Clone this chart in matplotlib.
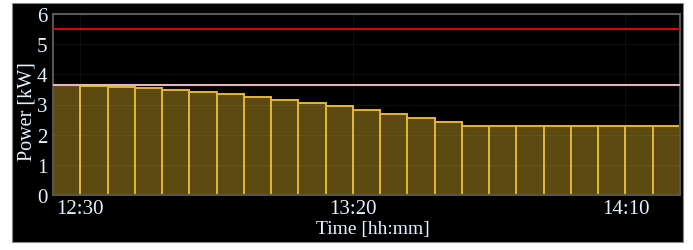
import matplotlib
matplotlib.use("Agg")
import matplotlib.pyplot as plt
from matplotlib.patches import Rectangle

# Data
times = ["12:25", "12:30", "12:35", "12:40", "12:45", "12:50", "12:55", "13:00",
         "13:05", "13:10", "13:15", "13:20", "13:25", "13:30", "13:35", "13:40",
         "13:45", "13:50", "13:55", "14:00", "14:05", "14:10", "14:15"]
power_kw = [3.65, 3.61, 3.58, 3.55, 3.49, 3.42, 3.35, 3.26, 3.16, 3.06, 2.95, 2.82,
            2.69, 2.55, 2.41, 2.30, 2.30, 2.30, 2.30, 2.30, 2.30, 2.30, 2.30]
limit_max_kw = 5.5
limit_ref_kw = 3.66
tick_labels = ["12:30", "13:20", "14:10"]
y_ticks = [0, 1, 2, 3, 4, 5, 6]

fig = plt.figure(figsize=(6.93, 2.51), dpi=100, facecolor="white")
bg = Rectangle((12/693, 1-243/251), (683-12)/693, (243-4)/251,
               transform=fig.transFigure, facecolor="black",
               edgecolor="#888888", linewidth=0.8, zorder=-10)
fig.add_artist(bg)

ax = fig.add_axes([53/693, 1-196/251, (680-53)/693, (196-15)/251])
ax.set_zorder(1)
ax.set_facecolor("black")

x = list(range(len(times)))
ax.bar(x, power_kw, width=1.0, align="edge", color="#5c4a10",
       edgecolor="#e3b53a", linewidth=1.4, zorder=2)
ax.axhline(limit_max_kw, color="#e00000", linewidth=1.5, zorder=3)
ax.axhline(limit_ref_kw, color="#e8b4bc", linewidth=1.5, zorder=3)

ax.set_xlim(0, len(times))
ax.set_ylim(0, 6)
ax.set_yticks(y_ticks)
tick_pos = [times.index(t) + 0.0 for t in tick_labels]
ax.set_xticks(tick_pos)
ax.set_xticklabels(tick_labels)

ax.grid(True, color="white", alpha=0.06, linewidth=0.8, zorder=4)
ax.set_axisbelow(False)

txtcol = "#e6f2ff"
for lab in ax.get_xticklabels() + ax.get_yticklabels():
    lab.set_fontfamily("Liberation Serif")
    lab.set_fontsize(15)
    lab.set_color(txtcol)
ax.tick_params(axis="x", length=0, pad=3)
ax.tick_params(axis="y", length=0, pad=4)
ax.set_xlabel("Time [hh:mm]", fontfamily="Liberation Serif", fontsize=14,
              color=txtcol, va="center")
ax.set_ylabel("Power [kW]", fontfamily="Liberation Serif", fontsize=14.5,
              color=txtcol, va="center")
ax.xaxis.set_label_coords((373-53)/627, (196-230)/181)
ax.yaxis.set_label_coords((27-53)/627, (196-112)/181)

for s in ax.spines.values():
    s.set_color("#555555")
    s.set_linewidth(1.5)

fig.savefig("out.png", dpi=100, facecolor="white")
